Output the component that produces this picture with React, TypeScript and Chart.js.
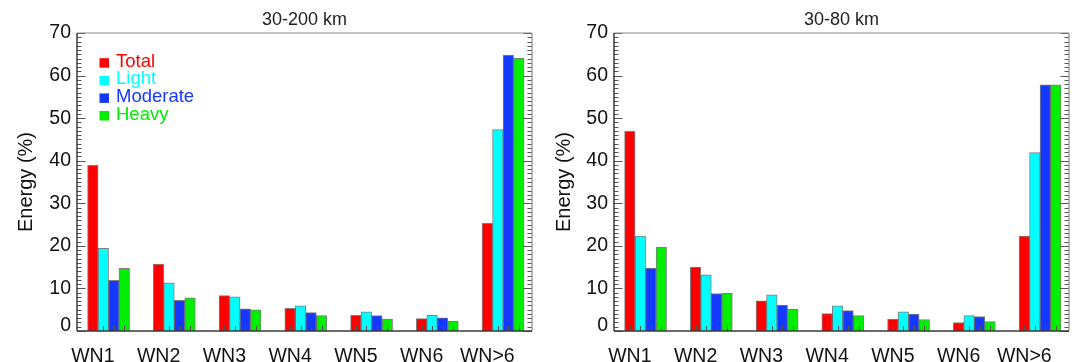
import React, { useEffect, useRef } from "react";
import { Chart, registerables } from "chart.js";

Chart.register(...registerables);

// ---------- data ----------
const categories = ["WN1", "WN2", "WN3", "WN4", "WN5", "WN6", "WN>6"];
const seriesNames = ["Total", "Light", "Moderate", "Heavy"];
const seriesColors = ["#ff0000", "#00ffff", "#1438ff", "#00ee00"];
const yTickValues = [0, 10, 20, 30, 40, 50, 60, 70];

// 30-200 km
const total200 = [38.9, 15.7, 8.3, 5.3, 3.7, 2.9, 25.3];
const light200 = [19.4, 11.3, 8.0, 5.9, 4.5, 3.7, 47.3];
const moderate200 = [11.9, 7.2, 5.2, 4.3, 3.6, 3.1, 64.8];
const heavy200 = [14.7, 7.8, 5.0, 3.6, 2.8, 2.3, 64.1];

// 30-80 km
const total80 = [46.9, 15.0, 7.1, 4.1, 2.8, 2.0, 22.3];
const light80 = [22.3, 13.2, 8.5, 5.9, 4.5, 3.6, 41.9];
const moderate80 = [14.8, 8.8, 6.1, 4.8, 4.0, 3.4, 57.8];
const heavy80 = [19.7, 8.9, 5.1, 3.6, 2.7, 2.2, 57.8];

const FONT = "'Liberation Sans', Arial, Helvetica, sans-serif";
Chart.defaults.font.family = FONT;

const framePlugin = {
  id: "frameTicks",
  afterDatasetsDraw(chart: any) {
    const { ctx, chartArea: a, scales } = chart;
    const y = scales.y;
    ctx.save();
    const line = (x1: number, y1: number, x2: number, y2: number) => {
      ctx.beginPath();
      ctx.moveTo(x1, y1);
      ctx.lineTo(x2, y2);
      ctx.stroke();
    };
    // y minor/major ticks, inside, left and right
    ctx.strokeStyle = "#555";
    ctx.lineWidth = 1;
    for (let v = y.min; v <= y.max; v += 1) {
      const py = Math.round(y.getPixelForValue(v)) + 0.5;
      const len = v % 10 === 0 ? 8.5 : 4.5;
      line(a.left, py, a.left + len, py);
      line(a.right, py, a.right - len, py);
    }
    // x ticks at every bar centre
    chart.data.datasets.forEach((_: any, di: number) => {
      chart.getDatasetMeta(di).data.forEach((el: any) => {
        const px = Math.round(el.x) + 0.5;
        line(px, a.bottom, px, a.bottom - 5);
      });
    });
    // frame: top / right lighter, left / bottom darker
    ctx.strokeStyle = "#8a8a8a";
    ctx.lineWidth = 1.2;
    line(a.left, a.top, a.right, a.top);
    line(a.right, a.top, a.right, a.bottom);
    ctx.strokeStyle = "#3a3a3a";
    ctx.lineWidth = 1.5;
    line(a.left, a.top, a.left, a.bottom);
    line(a.left, a.bottom, a.right, a.bottom);
    ctx.restore();
  },
};

const legendPlugin = {
  id: "innerLegend",
  afterDraw(chart: any) {
    const opts = chart.options.plugins.innerLegend;
    if (!opts || !opts.display) return;
    const { ctx, chartArea: a } = chart;
    ctx.save();
    ctx.font = `18.5px ${FONT}`;
    ctx.textBaseline = "alphabetic";
    ctx.textAlign = "left";
    chart.data.datasets.forEach((ds: any, i: number) => {
      const base = a.top + 33.7 + i * 17.6;
      ctx.fillStyle = ds.backgroundColor;
      ctx.fillRect(a.left + 22.5, base - 8.5, 9.5, 9.5);
      ctx.fillText(ds.label, a.left + 39, base);
    });
    ctx.restore();
  },
};

function Panel(props: {
  title: string;
  series: number[][];
  showLegend: boolean;
  left: number;
  width: number;
  axisWidth: number;
  rightPad: number;
  yTitlePad: number;
}) {
  const ref = useRef<HTMLCanvasElement>(null);
  useEffect(() => {
    const chart = new Chart(ref.current as HTMLCanvasElement, {
      type: "bar",
      data: {
        datasets: props.series.map((vals, si) => ({
          label: seriesNames[si],
          data: vals.map((v, i) => ({ x: i, y: v })),
          backgroundColor: seriesColors[si],
          borderColor: "rgba(40,40,40,0.6)",
          borderWidth: 1,
          barThickness: 10.5,
        })),
      } as any,
      options: {
        animation: false,
        responsive: false,
        maintainAspectRatio: false,
        layout: { padding: { left: 0, right: props.rightPad, top: 0, bottom: 0 } },
        plugins: {
          legend: { display: false },
          tooltip: { enabled: false },
          title: {
            display: true,
            fullSize: false,
            text: props.title,
            color: "#222",
            font: { size: 18, weight: "normal" as any, family: FONT },
            padding: { top: 8.9, bottom: 2.5 },
          },
          innerLegend: { display: props.showLegend },
        } as any,
        scales: {
          x: {
            type: "linear",
            offset: false,
            min: -0.48,
            max: 6.44,
            grid: { display: false },
            border: { display: false },
            afterBuildTicks: (scale: any) => {
              scale.ticks = categories.map((_, i) => ({ value: i }));
            },
            afterFit: (scale: any) => {
              scale.height = 31;
              scale.paddingLeft = 0;
              scale.paddingRight = 0;
            },
            ticks: {
              autoSkip: false,
              maxRotation: 0,
              minRotation: 0,
              padding: 6,
              labelOffset: -15.75,
              color: "#111",
              font: { size: 19.5, family: FONT },
              callback: (_v: any, i: number) => categories[i],
            },
          },
          y: {
            type: "linear",
            min: 0,
            max: 70,
            grid: { display: false, drawTicks: false },
            border: { display: false },
            afterBuildTicks: (scale: any) => {
              scale.ticks = yTickValues.map((v) => ({ value: v }));
            },
            afterFit: (scale: any) => {
              scale.width = props.axisWidth;
              scale.paddingTop = 0;
              scale.paddingBottom = 0;
            },
            ticks: {
              padding: 6,
              color: "#111",
              font: (c: any) => ({
                size: 19.5,
                family: FONT,
                lineHeight: c.tick && c.tick.value === 0 ? "11px" : 1.2,
              }),
              callback: (v: any) => (v === 0 ? ["0", ""] : String(v)),
            },
            title: {
              display: true,
              text: "Energy (%)",
              color: "#111",
              font: { size: 20, family: FONT },
              padding: { top: props.yTitlePad, bottom: 0 },
            },
          },
        } as any,
      },
      plugins: [framePlugin, legendPlugin],
    });
    return () => chart.destroy();
  }, []);
  return (
    <canvas
      ref={ref}
      width={props.width}
      height={362}
      style={{ position: "absolute", left: props.left, top: 0, width: props.width, height: 362 }}
    />
  );
}

export default function App() {
  return (
    <div
      style={{
        position: "fixed",
        left: 0,
        top: 0,
        width: 1079,
        height: 362,
        background: "#ffffff",
        overflow: "hidden",
      }}
    >
      <Panel
        title="30-200 km"
        series={[total200, light200, moderate200, heavy200]}
        showLegend={true}
        left={0}
        width={540}
        axisWidth={77}
        rightPad={8}
        yTitlePad={14}
      />
      <Panel
        title="30-80 km"
        series={[total80, light80, moderate80, heavy80]}
        showLegend={false}
        left={540}
        width={539}
        axisWidth={74}
        rightPad={10}
        yTitlePad={12}
      />
    </div>
  );
}
